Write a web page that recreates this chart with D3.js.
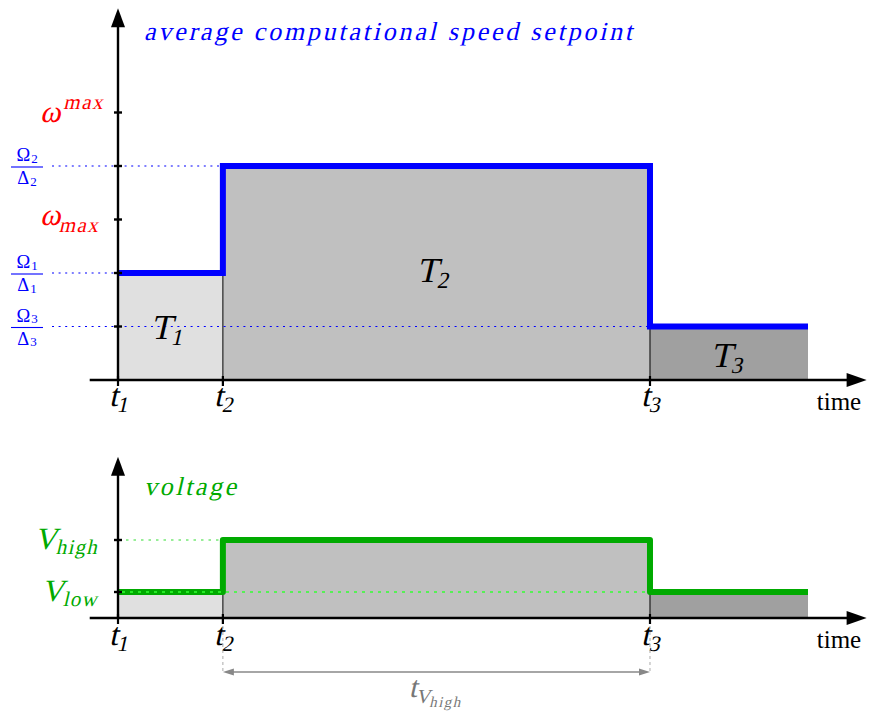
<!DOCTYPE html>
<html><head><meta charset="utf-8">
<script src="https://cdn.jsdelivr.net/npm/d3@7"></script>
<style>body{margin:0;background:#fff}</style>
</head><body>
<svg id="c" width="872" height="717"></svg>
<script>
// ---------- data ----------
const times = [0, 15.2, 77.1, 100];          // t1, t2, t3, end of horizon
const timeSubs = ["1", "2", "3"];
const speed = [2, 4, 1];                      // setpoint per interval (Ω_i/Δ_i)
const speedFracSubs = ["1", "2", "3"];
const speedBounds = [3, 5];                   // ω_max , ω^max
const voltage = [1, 3, 1];                    // V_low, V_high, V_low
const voltLevels = [1, 3];
const voltNames = ["low", "high"];
const segNames = ["1", "2", "3"];

// ---------- setup ----------
const svg = d3.select("#c");
const FONT = "'Liberation Serif', 'DejaVu Serif', serif";
const fills = ["#e0e0e0", "#c0c0c0", "#a0a0a0"];
const x = d3.scaleLinear().domain([0, 100]).range([118, 808]);
const yS = d3.scaleLinear().domain([0, 5]).range([380, 112.5]);
const yV = d3.scaleLinear().domain([0, 3]).range([618, 540]);
const xAxisMin = -4.1, xAxisMax = 108.5;

// text with synthetic oblique (skew) for italic math-like look
function mtext(g, px, py, parts, color, anchor, opts) {
  opts = opts || {};
  const skew = opts.skew === undefined ? -13 : opts.skew;
  const t = g.append("text").attr("x", 0).attr("y", 0)
    .attr("transform", `translate(${px},${py}) skewX(${skew})`)
    .attr("fill", color).attr("font-family", FONT)
    .attr("text-anchor", anchor || "start");
  if (opts.len) t.attr("textLength", opts.len).attr("lengthAdjust", "spacing");
  parts.forEach(p => {
    const ts = t.append("tspan").text(p.t)
      .attr("font-size", p.s)
      .attr("dy", p.dy || 0);
    if (p.ls) ts.attr("letter-spacing", p.ls);
  });
  return t;
}

function arrowHead(g, tipX, tipY, dir, len, w, color) {
  let pts;
  if (dir === "up") pts = [[tipX, tipY], [tipX - w / 2, tipY + len], [tipX + w / 2, tipY + len]];
  else if (dir === "right") pts = [[tipX, tipY], [tipX - len, tipY - w / 2], [tipX - len, tipY + w / 2]];
  else pts = [[tipX, tipY], [tipX + len, tipY - w / 2], [tipX + len, tipY + w / 2]];
  g.append("path").attr("d", "M" + pts.map(p => p.join(",")).join("L") + "Z").attr("fill", color);
}

function panel(y, levels) {
  const g = svg.append("g");
  const y0 = y(0);
  levels.forEach((v, i) => {
    g.append("rect").attr("x", x(times[i])).attr("width", x(times[i + 1]) - x(times[i]))
      .attr("y", y(v)).attr("height", y0 - y(v)).attr("fill", fills[i]);
  });
  for (let i = 1; i < levels.length; i++) {
    g.append("line").attr("x1", x(times[i])).attr("x2", x(times[i]))
      .attr("y1", y0).attr("y2", y(Math.min(levels[i - 1], levels[i])))
      .attr("stroke", "#000").attr("stroke-width", 1);
  }
  return g;
}

// ================= TOP PANEL =================
const gT = panel(yS, speed);
speed.forEach((v, i) => {
  gT.append("line").attr("x1", 52).attr("x2", x(times[i])).attr("y1", yS(v)).attr("y2", yS(v))
    .attr("stroke", "#0000ff").attr("stroke-width", 1.2).attr("stroke-dasharray", "2,4.6");
});
const ptsS = speed.map((v, i) => [times[i], v]).concat([[times[3], speed[2]]]);
gT.append("path").attr("d", d3.line().x(d => x(d[0])).y(d => yS(d[1])).curve(d3.curveStepAfter)(ptsS))
  .attr("fill", "none").attr("stroke", "#0000ff").attr("stroke-width", 6).attr("stroke-linejoin", "miter");
gT.append("line").attr("x1", x(xAxisMin)).attr("x2", x(xAxisMax) - 12).attr("y1", yS(0)).attr("y2", yS(0))
  .attr("stroke", "#000").attr("stroke-width", 2.4);
gT.append("line").attr("x1", x(0)).attr("x2", x(0)).attr("y1", yS(0) + 1).attr("y2", yS(6.95) + 12)
  .attr("stroke", "#000").attr("stroke-width", 2.4);
arrowHead(gT, x(xAxisMax), yS(0), "right", 20, 14, "#000");
arrowHead(gT, x(0), yS(6.95), "up", 19, 14, "#000");
speed.concat(speedBounds).forEach(v => {
  gT.append("line").attr("x1", x(0) - 4).attr("x2", x(0) + 4).attr("y1", yS(v)).attr("y2", yS(v))
    .attr("stroke", "#000").attr("stroke-width", 2.4);
});
times.slice(0, 3).forEach(t => {
  gT.append("line").attr("x1", x(t)).attr("x2", x(t)).attr("y1", yS(0) - 4).attr("y2", yS(0) + 6)
    .attr("stroke", "#000").attr("stroke-width", 2.2);
});
// fraction labels
speed.forEach((v, i) => {
  const cx = 27, cy = yS(v);
  mtext(gT, cx, cy - 5, [{t: "Ω", s: 18.5, ls: 1}, {t: speedFracSubs[i], s: 13, dy: 1.5}], "#0000ff", "middle", {skew: 0});
  gT.append("line").attr("x1", 11).attr("x2", 43).attr("y1", cy + 1).attr("y2", cy + 1)
    .attr("stroke", "#0000ff").attr("stroke-width", 1.1);
  mtext(gT, cx, cy + 18, [{t: "Δ", s: 18.5, ls: 1}, {t: speedFracSubs[i], s: 13, dy: 1.5}], "#0000ff", "middle", {skew: 0});
});
// ω labels
mtext(gT, 101, yS(speedBounds[1]) + 9, [{t: "ω", s: 31}, {t: "max", s: 21, dy: -13, ls: 1.5}], "#ff0000", "end");
mtext(gT, 101, yS(speedBounds[0]) + 5, [{t: "ω", s: 31}, {t: "max", s: 21, dy: 7, ls: 1.5}], "#ff0000", "end");
// title
mtext(gT, 144, 40, [{t: "average computational speed setpoint", s: 26}], "#0000ff", "start", {len: 488});
// T labels
const tLabPos = [[167, yS(1) + 12], [433, yS(2.05) + 12], [727, yS(0.47) + 12]];
segNames.forEach((s, i) => {
  mtext(gT, tLabPos[i][0], tLabPos[i][1], [{t: "T", s: 35}, {t: s, s: 23, dy: 6}], "#000", "middle");
});
times.slice(0, 3).forEach((t, i) => {
  mtext(gT, x(t) + 1, yS(0) + 26, [{t: "t", s: 32}, {t: timeSubs[i], s: 22, dy: 6}], "#000", "middle");
});
mtext(gT, 839, yS(0) + 30, [{t: "time", s: 25}], "#000", "middle", {skew: 0});

// ================= BOTTOM PANEL =================
const gB = panel(yV, voltage);
gB.append("line").attr("x1", x(0) + 8).attr("x2", x(times[1])).attr("y1", yV(voltLevels[1])).attr("y2", yV(voltLevels[1]))
  .attr("stroke", "#33dd33").attr("stroke-width", 1.2).attr("stroke-dasharray", "2.5,5");
const ptsV = voltage.map((v, i) => [times[i], v]).concat([[times[3], voltage[2]]]);
gB.append("path").attr("d", d3.line().x(d => x(d[0])).y(d => yV(d[1])).curve(d3.curveStepAfter)(ptsV))
  .attr("fill", "none").attr("stroke", "#00aa00").attr("stroke-width", 6).attr("stroke-linejoin", "round");
gB.append("line").attr("x1", x(0) + 4).attr("x2", x(times[2])).attr("y1", yV(voltLevels[0])).attr("y2", yV(voltLevels[0]))
  .attr("stroke", "#33ff33").attr("stroke-width", 1.4).attr("stroke-dasharray", "3,5");
gB.append("line").attr("x1", x(xAxisMin)).attr("x2", x(xAxisMax) - 12).attr("y1", yV(0)).attr("y2", yV(0))
  .attr("stroke", "#000").attr("stroke-width", 2.4);
gB.append("line").attr("x1", x(0)).attr("x2", x(0)).attr("y1", yV(0) + 1).attr("y2", yV(6.2) + 12)
  .attr("stroke", "#000").attr("stroke-width", 2.4);
arrowHead(gB, x(xAxisMax), yV(0), "right", 20, 14, "#000");
arrowHead(gB, x(0), yV(6.2), "up", 19, 14, "#000");
voltLevels.forEach(v => {
  gB.append("line").attr("x1", x(0) - 4).attr("x2", x(0) + 4).attr("y1", yV(v)).attr("y2", yV(v))
    .attr("stroke", "#000").attr("stroke-width", 2.4);
});
times.slice(0, 3).forEach(t => {
  gB.append("line").attr("x1", x(t)).attr("x2", x(t)).attr("y1", yV(0) - 4).attr("y2", yV(0) + 6)
    .attr("stroke", "#000").attr("stroke-width", 2.2);
});
voltLevels.forEach((v, i) => {
  mtext(gB, 99, yV(v) + 9, [{t: "V", s: 31}, {t: voltNames[i], s: 21, dy: 5, ls: 1.2}], "#00aa00", "end");
});
mtext(gB, 144, 495, [{t: "voltage", s: 26}], "#00aa00", "start", {len: 92});
times.slice(0, 3).forEach((t, i) => {
  mtext(gB, x(t) + 1, yV(0) + 27, [{t: "t", s: 32}, {t: timeSubs[i], s: 22, dy: 6}], "#000", "middle");
});
mtext(gB, 839, yV(0) + 30, [{t: "time", s: 25}], "#000", "middle", {skew: 0});
[times[1], times[2]].forEach(t => {
  gB.append("line").attr("x1", x(t)).attr("x2", x(t)).attr("y1", yV(0) + 8).attr("y2", yV(0) + 56)
    .attr("stroke", "#aaaaaa").attr("stroke-width", 1).attr("stroke-dasharray", "3,3");
});
const ay = yV(0) + 54;
gB.append("line").attr("x1", x(times[1]) + 8).attr("x2", x(times[2]) - 8).attr("y1", ay).attr("y2", ay)
  .attr("stroke", "#888").attr("stroke-width", 1.6);
arrowHead(gB, x(times[1]), ay, "left", 11, 7, "#888");
arrowHead(gB, x(times[2]), ay, "right", 11, 7, "#888");
mtext(gB, x((times[1] + times[2]) / 2), ay + 25, [{t: "t", s: 30}, {t: "V", s: 20, dy: 6}, {t: "high", s: 15, dy: 4, ls: 1.5}], "#777", "middle");
</script>
</body></html>
